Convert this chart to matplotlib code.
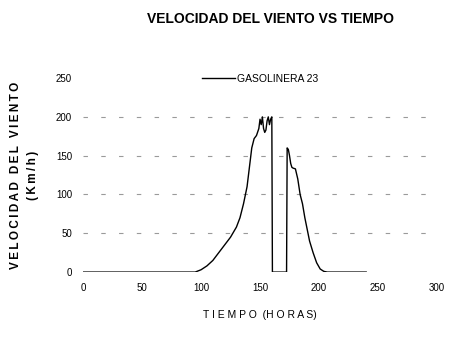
import numpy as np
import matplotlib
matplotlib.use('Agg')
import matplotlib.pyplot as plt

plt.rcParams['font.family'] = ['Liberation Sans', 'DejaVu Sans']

# datos
tiempo = [0, 20, 40, 60, 80, 95, 100, 105, 110, 115, 120, 125, 130, 133, 136, 139, 141, 143,
          145, 147, 149, 150, 151, 152, 153, 154, 155, 156, 157, 158, 159, 160, 160.5,
          165, 170, 172.5, 173, 174, 175, 176, 177, 178, 180, 182, 184, 186, 188, 190,
          192, 195, 198, 201, 204, 207, 215, 225, 240]
velocidad = [0, 0, 0, 0, 0, 0, 3, 8, 15, 25, 35, 45, 58, 70, 88, 110, 135, 160,
             172, 176, 185, 197, 190, 200, 185, 180, 183, 195, 200, 190, 197, 200, 0,
             0, 0, 0, 160, 158, 150, 140, 135, 134, 133, 120, 100, 88, 70, 55,
             40, 25, 12, 4, 1, 0, 0, 0, 0]

fig = plt.figure(figsize=(4.59, 3.38), dpi=100, facecolor='white')
ax = fig.add_axes([0.181, 0.195, 0.771, 0.574])
ax.plot(tiempo, velocidad, color='black', linewidth=1.0, label='GASOLINERA 23')

ax.set_xlim(0, 300)
ax.set_ylim(0, 250)
ax.set_xticks(np.arange(0, 301, 50))
ax.set_yticks(np.arange(0, 251, 50))
# lineas de division punteadas y tenues
for y in [50, 100, 150, 200]:
    ax.axhline(y, linestyle=(0, (4, 12)), color='#9a9a9a', linewidth=0.8, zorder=0)
for s in ax.spines.values():
    s.set_visible(False)
ax.tick_params(length=0, labelsize=7, pad=8)

ts = '\u2009'
ylab = ts.join('VELOCIDAD DEL VIENTO') + '\n' + ts.join('(Km/h)')
ax.set_xlabel('T I E M P O  (H O R A S)', fontsize=7.5, labelpad=12)
ax.set_ylabel(ylab, fontsize=8.5, fontweight='bold', labelpad=12, linespacing=1.6)
fig.text(0.59, 0.945, 'VELOCIDAD DEL VIENTO VS TIEMPO', ha='center', va='center',
         fontsize=10, fontweight='bold')

leg = ax.legend(loc='upper center', bbox_to_anchor=(0.5, 1.07), frameon=False,
                fontsize=7.5, handlelength=3.2, handletextpad=0.2)

fig.savefig('out.png', dpi=100, facecolor='white')
